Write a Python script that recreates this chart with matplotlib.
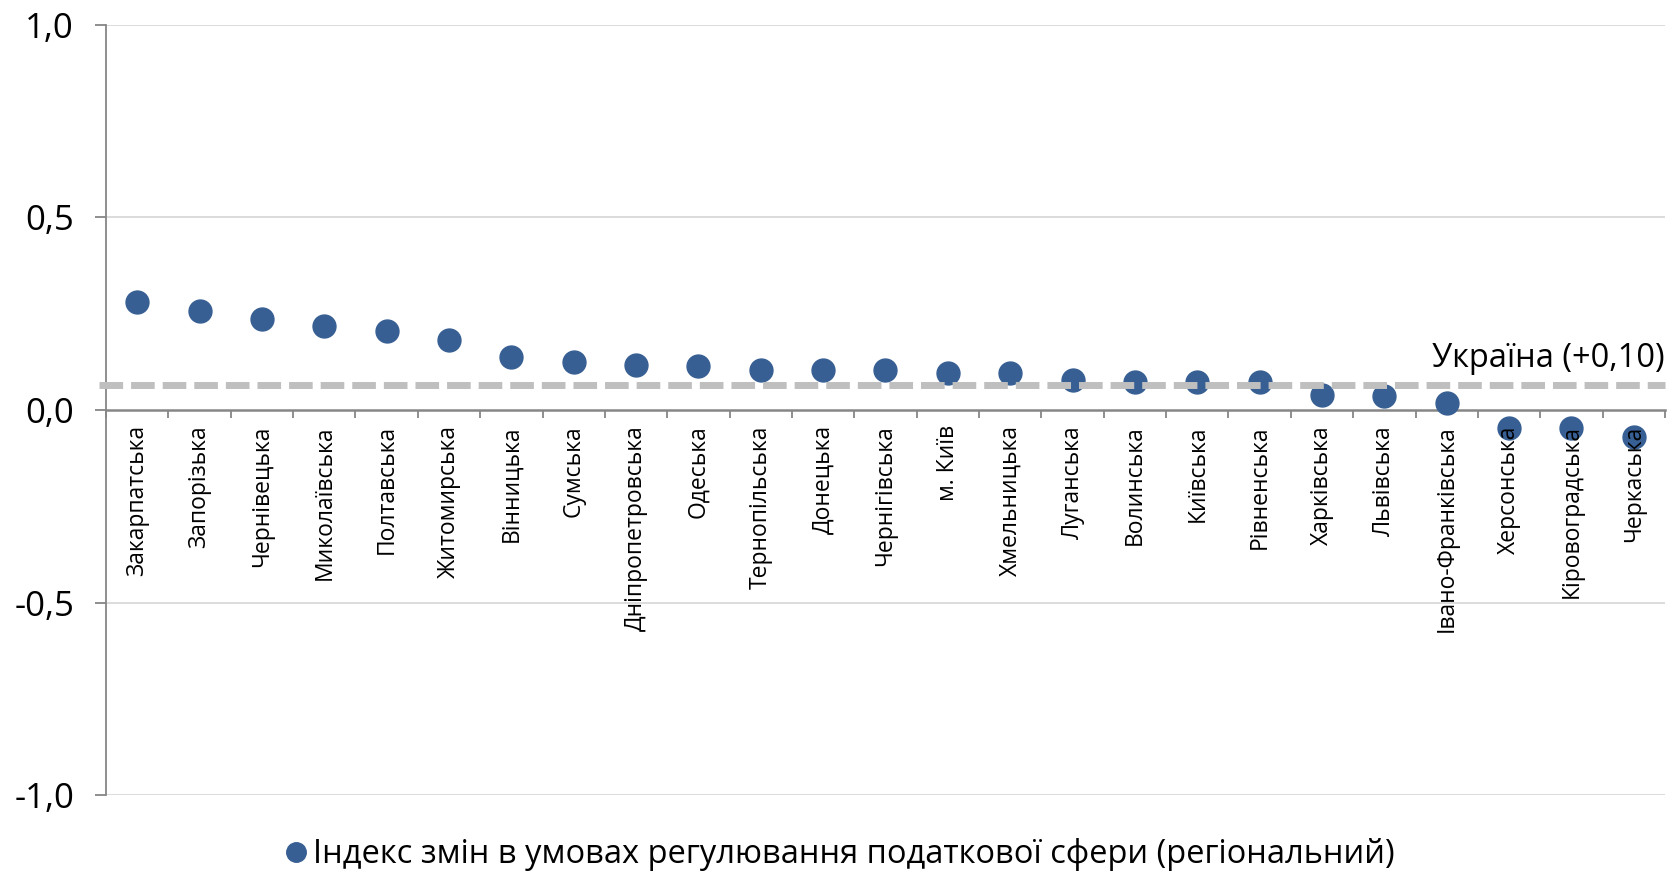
import numpy as np
import matplotlib.pyplot as plt

plt.rcParams['font.family'] = ['Open Sans', 'DejaVu Sans']

# Regions and index values
regions = ['Закарпатська', 'Запорізька', 'Чернівецька', 'Миколаївська', 'Полтавська',
           'Житомирська', 'Вінницька', 'Сумська', 'Дніпропетровська', 'Одеська',
           'Тернопільська', 'Донецька', 'Чернігівська', 'м. Київ', 'Хмельницька',
           'Луганська', 'Волинська', 'Київська', 'Рівненська', 'Харківська',
           'Львівська', 'Івано-Франківська', 'Херсонська', 'Кіровоградська', 'Черкаська']
index_values = [0.281, 0.257, 0.236, 0.219, 0.206,
                0.182, 0.137, 0.124, 0.118, 0.115,
                0.104, 0.103, 0.103, 0.096, 0.096,
                0.079, 0.073, 0.073, 0.072, 0.040,
                0.036, 0.017, -0.046, -0.046, -0.069]
ukraine_level = 0.065
ukraine_label = 'Україна (+0,10)'
y_ticks = [-1.0, -0.5, 0.0, 0.5, 1.0]
y_tick_labels = ['-1,0', '-0,5', '0,0', '0,5', '1,0']
legend_label = 'Індекс змін в умовах регулювання податкової сфери (регіональний)'

W, H = 1681, 874
fig = plt.figure(figsize=(W / 100, H / 100), dpi=100)
ax = fig.add_axes([106 / W, 1 - 795.3 / H, (1665 - 106) / W, (795.3 - 24.7) / H])

x = np.arange(len(regions))
dot_color = '#375F93'
axis_color = '#868686'

# gridlines
for yt in y_ticks:
    if yt != 0:
        ax.axhline(yt, color='#D9D9D9', linewidth=1.3, zorder=0)

# points (above the spine, below the category labels)
ax.plot(x, index_values, 'o', color=dot_color, markersize=16.5, linestyle='none',
        label=legend_label, zorder=2.7, clip_on=False)

# Ukraine average line, drawn over the points
ax.plot([-0.61, 24.5], [ukraine_level, ukraine_level], color='#BFBFBF', linewidth=5,
        dashes=(3.4, 1.15), solid_capstyle='butt', dash_capstyle='butt',
        clip_on=False, zorder=2.8)
ax.text(24.5, ukraine_level + 0.025, ukraine_label, ha='right', va='bottom', fontsize=23.5)

ax.set_xlim(-0.5, 24.5)
ax.set_ylim(-1, 1)

for s in ['top', 'right']:
    ax.spines[s].set_visible(False)
ax.spines['left'].set_color(axis_color)
ax.spines['left'].set_linewidth(1.3)
ax.spines['bottom'].set_position(('data', 0))
ax.spines['bottom'].set_color(axis_color)
ax.spines['bottom'].set_linewidth(1.8)

ax.set_yticks(y_ticks)
ax.set_yticklabels(y_tick_labels, fontsize=25)
ax.tick_params(axis='y', length=8, width=1.3, color=axis_color, pad=15)

ax.set_xticks(x)
ax.set_xticklabels(regions, rotation=90, fontsize=16.5, va='top')
ax.set_xticks(np.arange(-0.5, len(regions), 1.0), minor=True)
ax.tick_params(axis='x', which='major', length=0, pad=11)
ax.tick_params(axis='x', which='minor', length=6, width=1.3, color=axis_color)
ax.xaxis.set_zorder(3)

fig.legend(loc='center', bbox_to_anchor=(0.498, 0.022), frameon=False, fontsize=23.5,
           handletextpad=0.05, handlelength=1.0, markerscale=0.85, borderaxespad=0)

plt.savefig('out.png', dpi=100)
